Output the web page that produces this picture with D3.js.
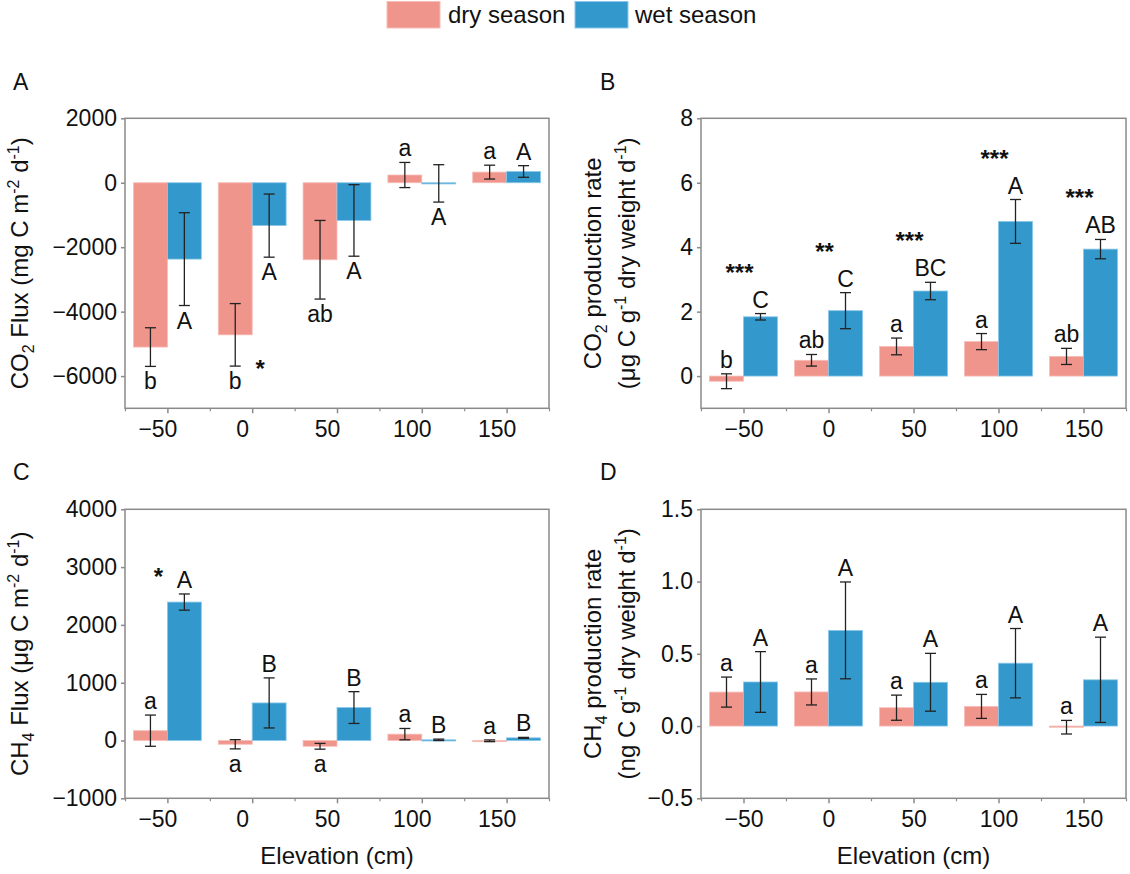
<!DOCTYPE html>
<html><head><meta charset="utf-8">
<script src="https://cdn.jsdelivr.net/npm/d3@7"></script>
<style>
body{margin:0;background:#fff}
svg{display:block}
text{font-family:"Liberation Sans",Arial,Helvetica,sans-serif;fill:#111}
</style>
</head><body>
<svg id="chart" width="1130" height="874"></svg>
<script>
// ---------- data ----------
const elevations = [-50, 0, 50, 100, 150];
const seasons = ["dry season", "wet season"];

// A: CO2 flux (mg C m-2 d-1)
const co2FluxDry    = [-5100, -4720, -2390, 240, 330];
const co2FluxDryErr = [600, 970, 1220, 390, 215];
const co2FluxWet    = [-2370, -1330, -1170, -20, 350];
const co2FluxWetErr = [1440, 980, 1110, 580, 180];
const co2FluxLettersDry = ["b", "b", "ab", "a", "a"];
const co2FluxLettersWet = ["A", "A", "A", "A", "A"];
const co2FluxStars = ["", "*", "", "", ""];
const co2FluxTicks = [-6000, -4000, -2000, 0, 2000];

// B: CO2 production rate (ug C g-1 dry weight d-1)
const co2ProdDry    = [-0.16, 0.49, 0.92, 1.07, 0.61];
const co2ProdDryErr = [0.23, 0.18, 0.26, 0.25, 0.25];
const co2ProdWet    = [1.84, 2.03, 2.64, 4.80, 3.94];
const co2ProdWetErr = [0.10, 0.56, 0.27, 0.68, 0.30];
const co2ProdLettersDry = ["b", "ab", "a", "a", "ab"];
const co2ProdLettersWet = ["C", "C", "BC", "A", "AB"];
const co2ProdStars = ["***", "**", "***", "***", "***"];
const co2ProdTicks = [0, 2, 4, 6, 8];

// C: CH4 flux (ug C m-2 d-1)
const ch4FluxDry    = [170, -65, -100, 110, -5];
const ch4FluxDryErr = [270, 80, 50, 98, 15];
const ch4FluxWet    = [2395, 650, 570, 12, 46];
const ch4FluxWetErr = [140, 433, 275, 12, 8];
const ch4FluxLettersDry = ["a", "a", "a", "a", "a"];
const ch4FluxLettersWet = ["A", "B", "B", "B", "B"];
const ch4FluxStars = ["*", "", "", "", ""];
const ch4FluxTicks = [-1000, 0, 1000, 2000, 3000, 4000];

// D: CH4 production rate (ng C g-1 dry weight d-1)
const ch4ProdDry    = [0.235, 0.236, 0.127, 0.136, -0.008];
const ch4ProdDryErr = [0.104, 0.090, 0.087, 0.083, 0.047];
const ch4ProdWet    = [0.305, 0.662, 0.303, 0.435, 0.320];
const ch4ProdWetErr = [0.210, 0.335, 0.200, 0.240, 0.295];
const ch4ProdLettersDry = ["a", "a", "a", "a", "a"];
const ch4ProdLettersWet = ["A", "A", "A", "A", "A"];
const ch4ProdStars = ["", "", "", "", ""];
const ch4ProdTicks = [-0.5, 0.0, 0.5, 1.0, 1.5];

// letters below the error bar (true) or above (false)
const co2FluxDryBelow = [true, true, true, false, false];
const co2FluxWetBelow = [true, true, true, true, false];
const co2ProdDryBelow = [false, false, false, false, false];
const co2ProdWetBelow = [false, false, false, false, false];
const ch4FluxDryBelow = [false, true, true, false, false];
const ch4FluxWetBelow = [false, false, false, false, false];
const ch4ProdDryBelow = [false, false, false, false, false];
const ch4ProdWetBelow = [false, false, false, false, false];

// ---------- style ----------
const DRY = "#F0958C", WET = "#3399CC";
const DRY_EDGE = "#F7BDB7", WET_EDGE = "#8CC8EA";
const FRAME = "#8a8a8a";
const svg = d3.select("#chart");

// legend
const legend = svg.append("g");
[[387, DRY, DRY_EDGE, 448], [575, WET, WET_EDGE, 635]].forEach((p, i) => {
  legend.append("rect").attr("x", p[0]).attr("y", 1.5).attr("width", 53).attr("height", 26.5)
    .attr("fill", p[1]).attr("stroke", p[2]).attr("stroke-width", 1);
  legend.append("text").attr("x", p[3]).attr("y", 23).attr("font-size", 24).text(seasons[i]);
});

function titleParts(t, parts, sizeMain) {
  parts.forEach(p => {
    const ts = t.append("tspan").text(p.s);
    if (p.sub) ts.attr("font-size", 16).attr("dy", 6);
    else if (p.sup) ts.attr("font-size", 16).attr("dy", -9);
    else ts.attr("font-size", sizeMain);
    if (p.back) ts.attr("dy", p.back);
  });
}

function drawPanel(cfg) {
  const g = svg.append("g");
  const x = d3.scaleLinear().domain([-75, 175]).range([cfg.x0, cfg.x1]);
  const y = d3.scaleLinear().domain(cfg.domain).range([cfg.yb, cfg.yt]);
  const bw = x(20) - x(0);

  const series = [
    {v: cfg.dry, e: cfg.dryErr, off: -20, fill: DRY, edge: DRY_EDGE, L: cfg.lettersDry, below: cfg.dryBelow},
    {v: cfg.wet, e: cfg.wetErr, off: 0, fill: WET, edge: WET_EDGE, L: cfg.lettersWet, below: cfg.wetBelow}
  ];

  series.forEach(s => {
    const rows = elevations.map((el, i) => ({el, v: s.v[i], e: s.e[i], L: s.L[i], below: s.below[i]}));
    g.selectAll(null).data(rows).join("rect")
      .attr("x", d => x(d.el + s.off))
      .attr("width", bw)
      .attr("y", d => Math.min(y(d.v), y(0)))
      .attr("height", d => Math.max(1.2, Math.abs(y(d.v) - y(0))))
      .attr("fill", s.fill).attr("stroke", s.edge).attr("stroke-width", 0.8);
    // error bars
    const eb = g.selectAll(null).data(rows).join("g")
      .attr("transform", d => `translate(${x(d.el + s.off + 10)},0)`)
      .attr("stroke", "#222").attr("stroke-width", 1.3);
    eb.append("line").attr("y1", d => y(d.v + d.e)).attr("y2", d => y(d.v - d.e));
    eb.append("line").attr("x1", -5.5).attr("x2", 5.5).attr("y1", d => y(d.v + d.e)).attr("y2", d => y(d.v + d.e));
    eb.append("line").attr("x1", -5.5).attr("x2", 5.5).attr("y1", d => y(d.v - d.e)).attr("y2", d => y(d.v - d.e));
    // letters
    g.selectAll(null).data(rows).join("text")
      .attr("x", d => x(d.el + s.off + 10))
      .attr("y", d => d.below ? y(d.v - d.e) + 23 : y(d.v + d.e) - 6)
      .attr("text-anchor", "middle").attr("font-size", 23)
      .text(d => d.L);
  });

  // significance stars
  const starRows = elevations.map((el, i) => ({el, s: cfg.stars[i], i})).filter(d => d.s);
  g.selectAll(null).data(starRows).join("text")
    .attr("text-anchor", "middle").attr("font-size", 24).attr("font-weight", "bold")
    .attr("x", d => {
      if (cfg.starMode === "side") return x(d.el) + 8;
      if (cfg.starMode === "left") return x(d.el) - 9;
      return x(d.el) - 4;
    })
    .attr("y", d => {
      const i = d.i;
      if (cfg.starMode === "side") return y(cfg.dry[i] - cfg.dryErr[i]) + 11;
      if (cfg.starMode === "left") return y(cfg.wet[i] + cfg.wetErr[i]) - 23 + 14;
      return y(cfg.wet[i] + cfg.wetErr[i]) - 47 + 14;
    })
    .text(d => d.s);

  // frame
  g.append("rect").attr("x", cfg.x0).attr("y", cfg.yt).attr("width", cfg.x1 - cfg.x0).attr("height", cfg.yb - cfg.yt)
    .attr("fill", "none").attr("stroke", FRAME).attr("stroke-width", 1.5);

  // y axis
  const ya = g.append("g").attr("transform", `translate(${cfg.x0},0)`)
    .call(d3.axisLeft(y).tickValues(cfg.ticks).tickFormat(cfg.fmt).tickSize(4).tickPadding(4));
  ya.select(".domain").remove();
  ya.selectAll("line").attr("stroke", FRAME).attr("stroke-width", 1.5);
  ya.selectAll("text").attr("font-size", 23).attr("fill", "#111").attr("font-family", '"Liberation Sans",Arial,sans-serif');

  // x axis major
  const xa = g.append("g").attr("transform", `translate(0,${cfg.yb})`)
    .call(d3.axisBottom(x).tickValues(elevations).tickFormat(d3.format("d")).tickSize(5).tickPadding(7));
  xa.select(".domain").remove();
  xa.selectAll("line").attr("stroke", FRAME).attr("stroke-width", 1.5);
  xa.selectAll("text").attr("font-size", 23).attr("fill", "#111").attr("x", cfg.labelShift)
    .attr("font-family", '"Liberation Sans",Arial,sans-serif');
  // x axis minor
  const xm = g.append("g").attr("transform", `translate(0,${cfg.yb})`)
    .call(d3.axisBottom(x).tickValues([-75, -25, 25, 75, 125, 175]).tickFormat("").tickSize(3));
  xm.select(".domain").remove();
  xm.selectAll("line").attr("stroke", FRAME).attr("stroke-width", 1.2);

  // panel letter
  svg.append("text").attr("x", cfg.letterX).attr("y", cfg.letterY).attr("font-size", 23).text(cfg.letter);

  // y title
  cfg.title.forEach((parts, k) => {
    const t = svg.append("text")
      .attr("transform", `translate(${cfg.titleX[k]},${(cfg.yt + cfg.yb) / 2}) rotate(-90)`)
      .attr("text-anchor", "middle");
    titleParts(t, parts, 24);
  });

  if (cfg.xTitle) {
    svg.append("text").attr("x", (cfg.x0 + cfg.x1) / 2).attr("y", cfg.yb + 66)
      .attr("text-anchor", "middle").attr("font-size", 24).text("Elevation (cm)");
  }
}

const fmtInt = d3.format("d");
const fmt1 = d3.format(".1f");

drawPanel({
  letter: "A", letterX: 13, letterY: 90,
  x0: 125, x1: 549, yt: 118.3, yb: 408.3, domain: [-7000, 2000], ticks: co2FluxTicks, fmt: fmtInt,
  dry: co2FluxDry, dryErr: co2FluxDryErr, wet: co2FluxWet, wetErr: co2FluxWetErr,
  lettersDry: co2FluxLettersDry, lettersWet: co2FluxLettersWet,
  dryBelow: co2FluxDryBelow, wetBelow: co2FluxWetBelow,
  stars: co2FluxStars, starMode: "side", labelShift: -10, xTitle: false,
  titleX: [28],
  title: [[{s: "CO"}, {s: "2", sub: true}, {s: " Flux (mg C m", back: -6}, {s: "-2", sup: true}, {s: " d", back: 9}, {s: "-1", sup: true}, {s: ")", back: 9}]]
});

drawPanel({
  letter: "B", letterX: 600, letterY: 90,
  x0: 701, x1: 1126, yt: 118.3, yb: 408.3, domain: [-1, 8], ticks: co2ProdTicks, fmt: fmtInt,
  dry: co2ProdDry, dryErr: co2ProdDryErr, wet: co2ProdWet, wetErr: co2ProdWetErr,
  lettersDry: co2ProdLettersDry, lettersWet: co2ProdLettersWet,
  dryBelow: co2ProdDryBelow, wetBelow: co2ProdWetBelow,
  stars: co2ProdStars, starMode: "top", labelShift: 0, xTitle: false,
  titleX: [601, 635],
  title: [
    [{s: "CO"}, {s: "2", sub: true}, {s: " production rate", back: -6}],
    [{s: "(μg C g"}, {s: "-1", sup: true}, {s: " dry weight d", back: 9}, {s: "-1", sup: true}, {s: ")", back: 9}]
  ]
});

drawPanel({
  letter: "C", letterX: 13, letterY: 480,
  x0: 125, x1: 549, yt: 509.3, yb: 798.3, domain: [-1000, 4000], ticks: ch4FluxTicks, fmt: fmtInt,
  dry: ch4FluxDry, dryErr: ch4FluxDryErr, wet: ch4FluxWet, wetErr: ch4FluxWetErr,
  lettersDry: ch4FluxLettersDry, lettersWet: ch4FluxLettersWet,
  dryBelow: ch4FluxDryBelow, wetBelow: ch4FluxWetBelow,
  stars: ch4FluxStars, starMode: "left", labelShift: -10, xTitle: true,
  titleX: [28],
  title: [[{s: "CH"}, {s: "4", sub: true}, {s: " Flux (μg C m", back: -6}, {s: "-2", sup: true}, {s: " d", back: 9}, {s: "-1", sup: true}, {s: ")", back: 9}]]
});

drawPanel({
  letter: "D", letterX: 600, letterY: 480,
  x0: 701, x1: 1126, yt: 509.3, yb: 798.3, domain: [-0.5, 1.5], ticks: ch4ProdTicks, fmt: fmt1,
  dry: ch4ProdDry, dryErr: ch4ProdDryErr, wet: ch4ProdWet, wetErr: ch4ProdWetErr,
  lettersDry: ch4ProdLettersDry, lettersWet: ch4ProdLettersWet,
  dryBelow: ch4ProdDryBelow, wetBelow: ch4ProdWetBelow,
  stars: ch4ProdStars, starMode: "top", labelShift: 0, xTitle: true,
  titleX: [601, 635],
  title: [
    [{s: "CH"}, {s: "4", sub: true}, {s: " production rate", back: -6}],
    [{s: "(ng C g"}, {s: "-1", sup: true}, {s: " dry weight d", back: 9}, {s: "-1", sup: true}, {s: ")", back: 9}]
  ]
});
</script>
</body></html>
